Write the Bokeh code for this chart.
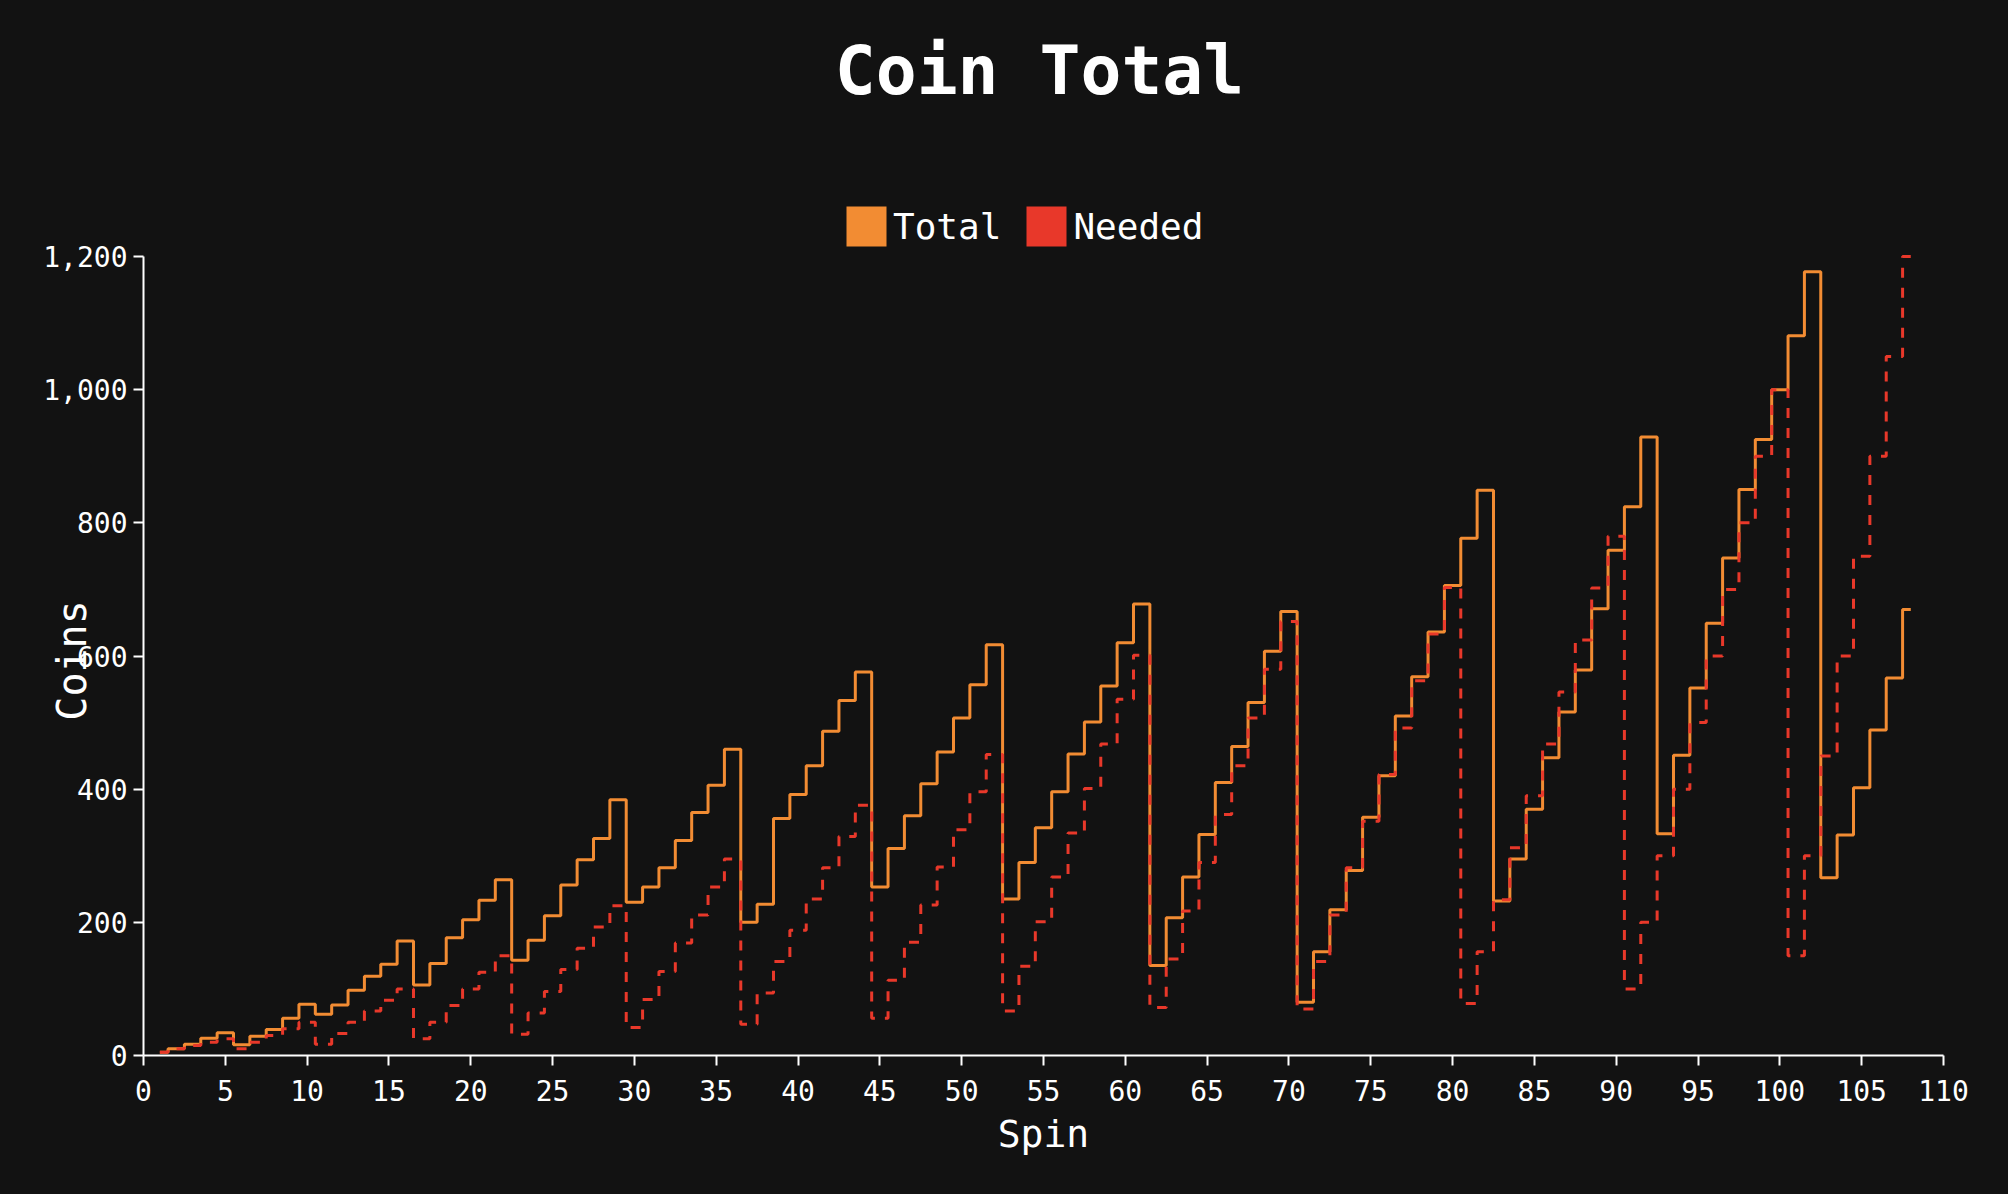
from bokeh.plotting import figure
from bokeh.models import (Range1d, FixedTicker, NumeralTickFormatter, Label,
                          Legend, LegendItem, ColumnDataSource)
from bokeh.embed import file_html
from bokeh.resources import INLINE

# ---- data ----
spins = list(range(1, 109))
total = [5, 10, 17, 26, 34, 16, 29, 39, 56, 77,
         62, 76, 98, 119, 137, 172, 106, 138, 177, 204,
         233, 264, 143, 173, 210, 256, 294, 326, 384, 230,
         253, 282, 323, 365, 406, 460, 200, 227, 356, 392,
         435, 487, 533, 576, 253, 311, 360, 408, 456, 507,
         557, 617, 235, 290, 342, 396, 453, 501, 555, 620,
         678, 135, 207, 268, 332, 410, 464, 530, 607, 667,
         80, 156, 219, 278, 358, 420, 510, 569, 636, 706,
         777, 849, 232, 295, 370, 447, 516, 579, 671, 759,
         824, 929, 333, 451, 552, 649, 747, 850, 925, 1000,
         1081, 1177, 267, 331, 402, 489, 567, 670]
needed = [5, 10, 15, 20, 25, 10, 20, 30, 40, 50,
          17, 33, 50, 67, 83, 100, 25, 50, 75, 100,
          125, 150, 32, 64, 96, 129, 161, 193, 225, 42,
          84, 126, 169, 211, 253, 295, 47, 94, 141, 188,
          235, 282, 329, 376, 56, 113, 170, 226, 283, 339,
          396, 452, 67, 134, 201, 268, 334, 401, 468, 535,
          601, 72, 145, 217, 290, 362, 435, 507, 580, 652,
          70, 141, 211, 282, 352, 422, 492, 563, 633, 703,
          78, 156, 234, 312, 390, 468, 546, 624, 702, 780,
          100, 200, 300, 400, 500, 600, 700, 800, 900, 1000,
          150, 300, 450, 600, 750, 900, 1050, 1200]
series_names = ["Total", "Needed"]
x_ticks = list(range(0, 111, 5))
y_ticks = [0, 200, 400, 600, 800, 1000, 1200]
title_text = "Coin Total"
x_label = "Spin"
y_label = "Coins"

# ---- style / layout ----
BG = "#121212"
ORANGE = "#f28c33"
RED = "#e8382a"
FONT = "DejaVu Sans Mono"
W, H = 2008, 1194
LEFT, RIGHT, BOTTOM = 143, 65, 139
AXIS_TOP_PX = 256            # pixel row where the y axis (1200) ends
Y_MAX = 1200
FRAME_H = H - BOTTOM
Y_TOP = Y_MAX * FRAME_H / (FRAME_H - AXIS_TOP_PX)   # frame reaches the canvas top

src = ColumnDataSource(dict(x=spins, total=total, needed=needed))

p = figure(width=W, height=H, output_backend="svg", toolbar_location=None,
           x_range=Range1d(0, 110), y_range=Range1d(0, Y_TOP),
           min_border_left=LEFT, min_border_right=RIGHT,
           min_border_top=0, min_border_bottom=BOTTOM,
           background_fill_color=BG, border_fill_color=None)
p.outline_line_color = None
p.grid.visible = False

for ax in (p.xaxis[0], p.yaxis[0]):
    ax.axis_line_color = "white"
    ax.axis_line_width = 2
    ax.major_tick_line_color = "white"
    ax.major_tick_line_width = 2
    ax.major_tick_out = 10
    ax.major_tick_in = 0
    ax.minor_tick_line_color = None
    ax.major_label_text_color = "white"
    ax.major_label_text_font = FONT
    ax.major_label_text_font_size = "28px"
    ax.axis_label_text_color = "white"
    ax.axis_label_text_font = FONT
    ax.axis_label_text_font_style = "normal"

p.xaxis[0].ticker = FixedTicker(ticks=x_ticks)
p.yaxis[0].ticker = FixedTicker(ticks=y_ticks)
p.yaxis[0].bounds = (0, Y_MAX)
p.yaxis[0].formatter = NumeralTickFormatter(format="0,0")
p.xaxis[0].major_label_standoff = 14
p.yaxis[0].major_label_standoff = 6
p.xaxis[0].axis_label = x_label
p.xaxis[0].axis_label_text_font_size = "38px"
p.xaxis[0].axis_label_standoff = 8
# the axis label is centred on the whole frame; trailing no-break spaces move
# the visible word down to the middle of the 0..1200 span
p.yaxis[0].axis_label = y_label + "\u00a0" * 11
p.yaxis[0].axis_label_text_font_size = "40px"
p.yaxis[0].axis_label_standoff = -55

r_total = p.step(x="x", y="total", source=src, mode="center",
                 line_color=ORANGE, line_width=3)
r_needed = p.step(x="x", y="needed", source=src, mode="center",
                  line_color=RED, line_width=3, line_dash="10 10")

# zero-size blocks on the data, only used as square legend swatches
q_total = p.quad(left="x", right="x", top="total", bottom="total", source=src,
                 fill_color=ORANGE, line_color=None)
q_needed = p.quad(left="x", right="x", top="needed", bottom="needed", source=src,
                  fill_color=RED, line_color=None)

legend = Legend(items=[LegendItem(label=series_names[0], renderers=[q_total]),
                       LegendItem(label=series_names[1], renderers=[q_needed])],
                orientation="horizontal", location=(698, 804),
                glyph_width=50, glyph_height=50, label_height=50,
                label_text_font=FONT, label_text_font_size="36px",
                label_text_color="white", label_standoff=2, spacing=20,
                padding=0, margin=0, border_line_color=None,
                background_fill_alpha=0)
p.add_layout(legend)

title = Label(x=(W - LEFT - RIGHT) / 2 - 4, y=FRAME_H - 70, x_units="screen", y_units="screen",
              text=title_text, text_align="center", text_baseline="middle",
              text_color="white", text_font=FONT, text_font_style="bold",
              text_font_size="68px")
p.add_layout(title)

html = file_html(p, INLINE)
style = "<style>html,body{margin:0;padding:0;background:%s;}</style>" % BG
html = html.replace("</head>", style + "</head>", 1)
open("out.html", "w").write(html)
